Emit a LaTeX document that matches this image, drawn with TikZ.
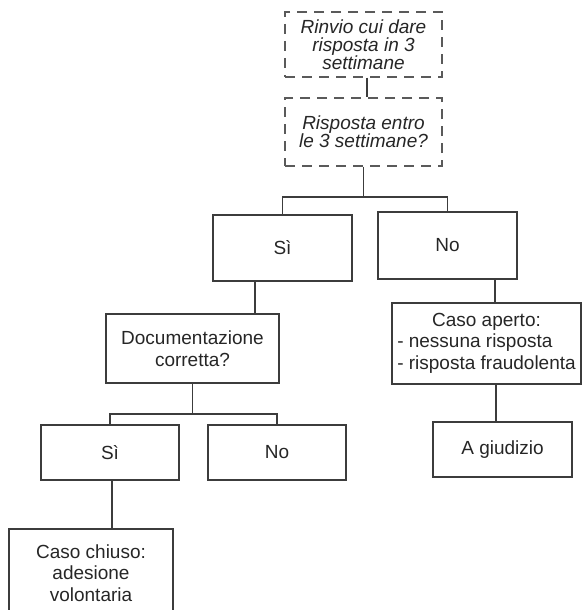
\documentclass[tikz,border=0pt]{standalone}
\usepackage{fontspec}
\setmainfont{Liberation Sans}
\usepackage{tikz}
\usetikzlibrary{
    positioning,             % For relative placement of nodes
    calc                     % For coordinate calculations
}
\definecolor{linegray}{HTML}{3C3C3C}
\definecolor{dashgray}{HTML}{5A5A5A}
\definecolor{textgray}{HTML}{262626}

\begin{document}
\begin{tikzpicture}[
    x=1pt, y=-1pt,
    font=\fontsize{19}{21.7}\selectfont,
    text=textgray,
    link/.style={draw=linegray, line width=1.2pt},
    casebox/.style={
        draw=linegray,
        line width=1.2pt,
        align=center,
        inner sep=0pt
    },
    waitbox/.style={
        draw=dashgray,
        line width=1.2pt,
        dash pattern=on 10pt off 7pt,
        align=center,
        inner sep=0pt,
        minimum width=157pt,
        font=\fontsize{19}{18}\selectfont\itshape
    }
]
    \useasboundingbox (0,0) rectangle (582,610);

    % --- Waiting period (dashed boxes) ---
    \node[waitbox, minimum height=65pt] (rinvio) at (363.5,44.5) {Rinvio cui dare\\risposta in 3\\settimane};
    \node[waitbox, minimum height=68pt] (entro) at (363.5,132) {Risposta entro\\le 3 settimane?};

    % --- First answer ---
    \node[casebox, minimum width=139pt, minimum height=66pt] (si) at (282.5,248) {Sì};
    \node[casebox, minimum width=139pt, minimum height=67pt] (no) at (447.5,245.5) {No};

    % --- Checking the documents ---
    \node[casebox, minimum width=173pt, minimum height=69pt] (doc) at (192.5,348.5) {Documentazione\\corretta?};
    \node[casebox, minimum width=138pt, minimum height=55pt] (sidoc) at (110,452.5) {Sì};
    \node[casebox, minimum width=138pt, minimum height=55pt] (nodoc) at (277,452.5) {No};
    \node[casebox, minimum width=164pt, minimum height=88pt] (chiuso) at (91,573) {Caso chiuso:\\adesione\\volontaria};

    % --- Open case ---
    \node[casebox, minimum width=189pt, minimum height=81pt] (aperto) at (486.5,343.5)
        {\begin{tabular}{@{}l@{}}\multicolumn{1}{c}{Caso aperto:}\\- nessuna risposta\\- risposta fraudolenta\end{tabular}};
    \node[casebox, minimum width=139pt, minimum height=55pt] (giudizio) at (502.5,449.5) {A giudizio};

    % --- Connectors ---
    \coordinate (fork1) at (363.5,197);
    \coordinate (fork2) at (192.5,414);
    \draw[link] ([xshift=3.5pt]rinvio.south) -- ([xshift=3.5pt]rinvio.south |- entro.north);
    \draw[link] (entro.south) -- (fork1);
    \draw[link] (si.north) |- (fork1) -| (no.north);
    \draw[link] ([xshift=-27.5pt]si.south) -- ([xshift=-27.5pt]si.south |- doc.north);
    \draw[link] (doc.south) -- (fork2);
    \draw[link] (sidoc.north) |- (fork2) -| (nodoc.north);
    \draw[link] ([xshift=2pt]sidoc.south) -- ([xshift=2pt]sidoc.south |- chiuso.north);
    \draw[link] ([xshift=47.5pt]no.south) -- ([xshift=47.5pt]no.south |- aperto.north);
    \draw[link] ([xshift=9.5pt]aperto.south) -- ([xshift=9.5pt]aperto.south |- giudizio.north);

\end{tikzpicture}
\end{document}
